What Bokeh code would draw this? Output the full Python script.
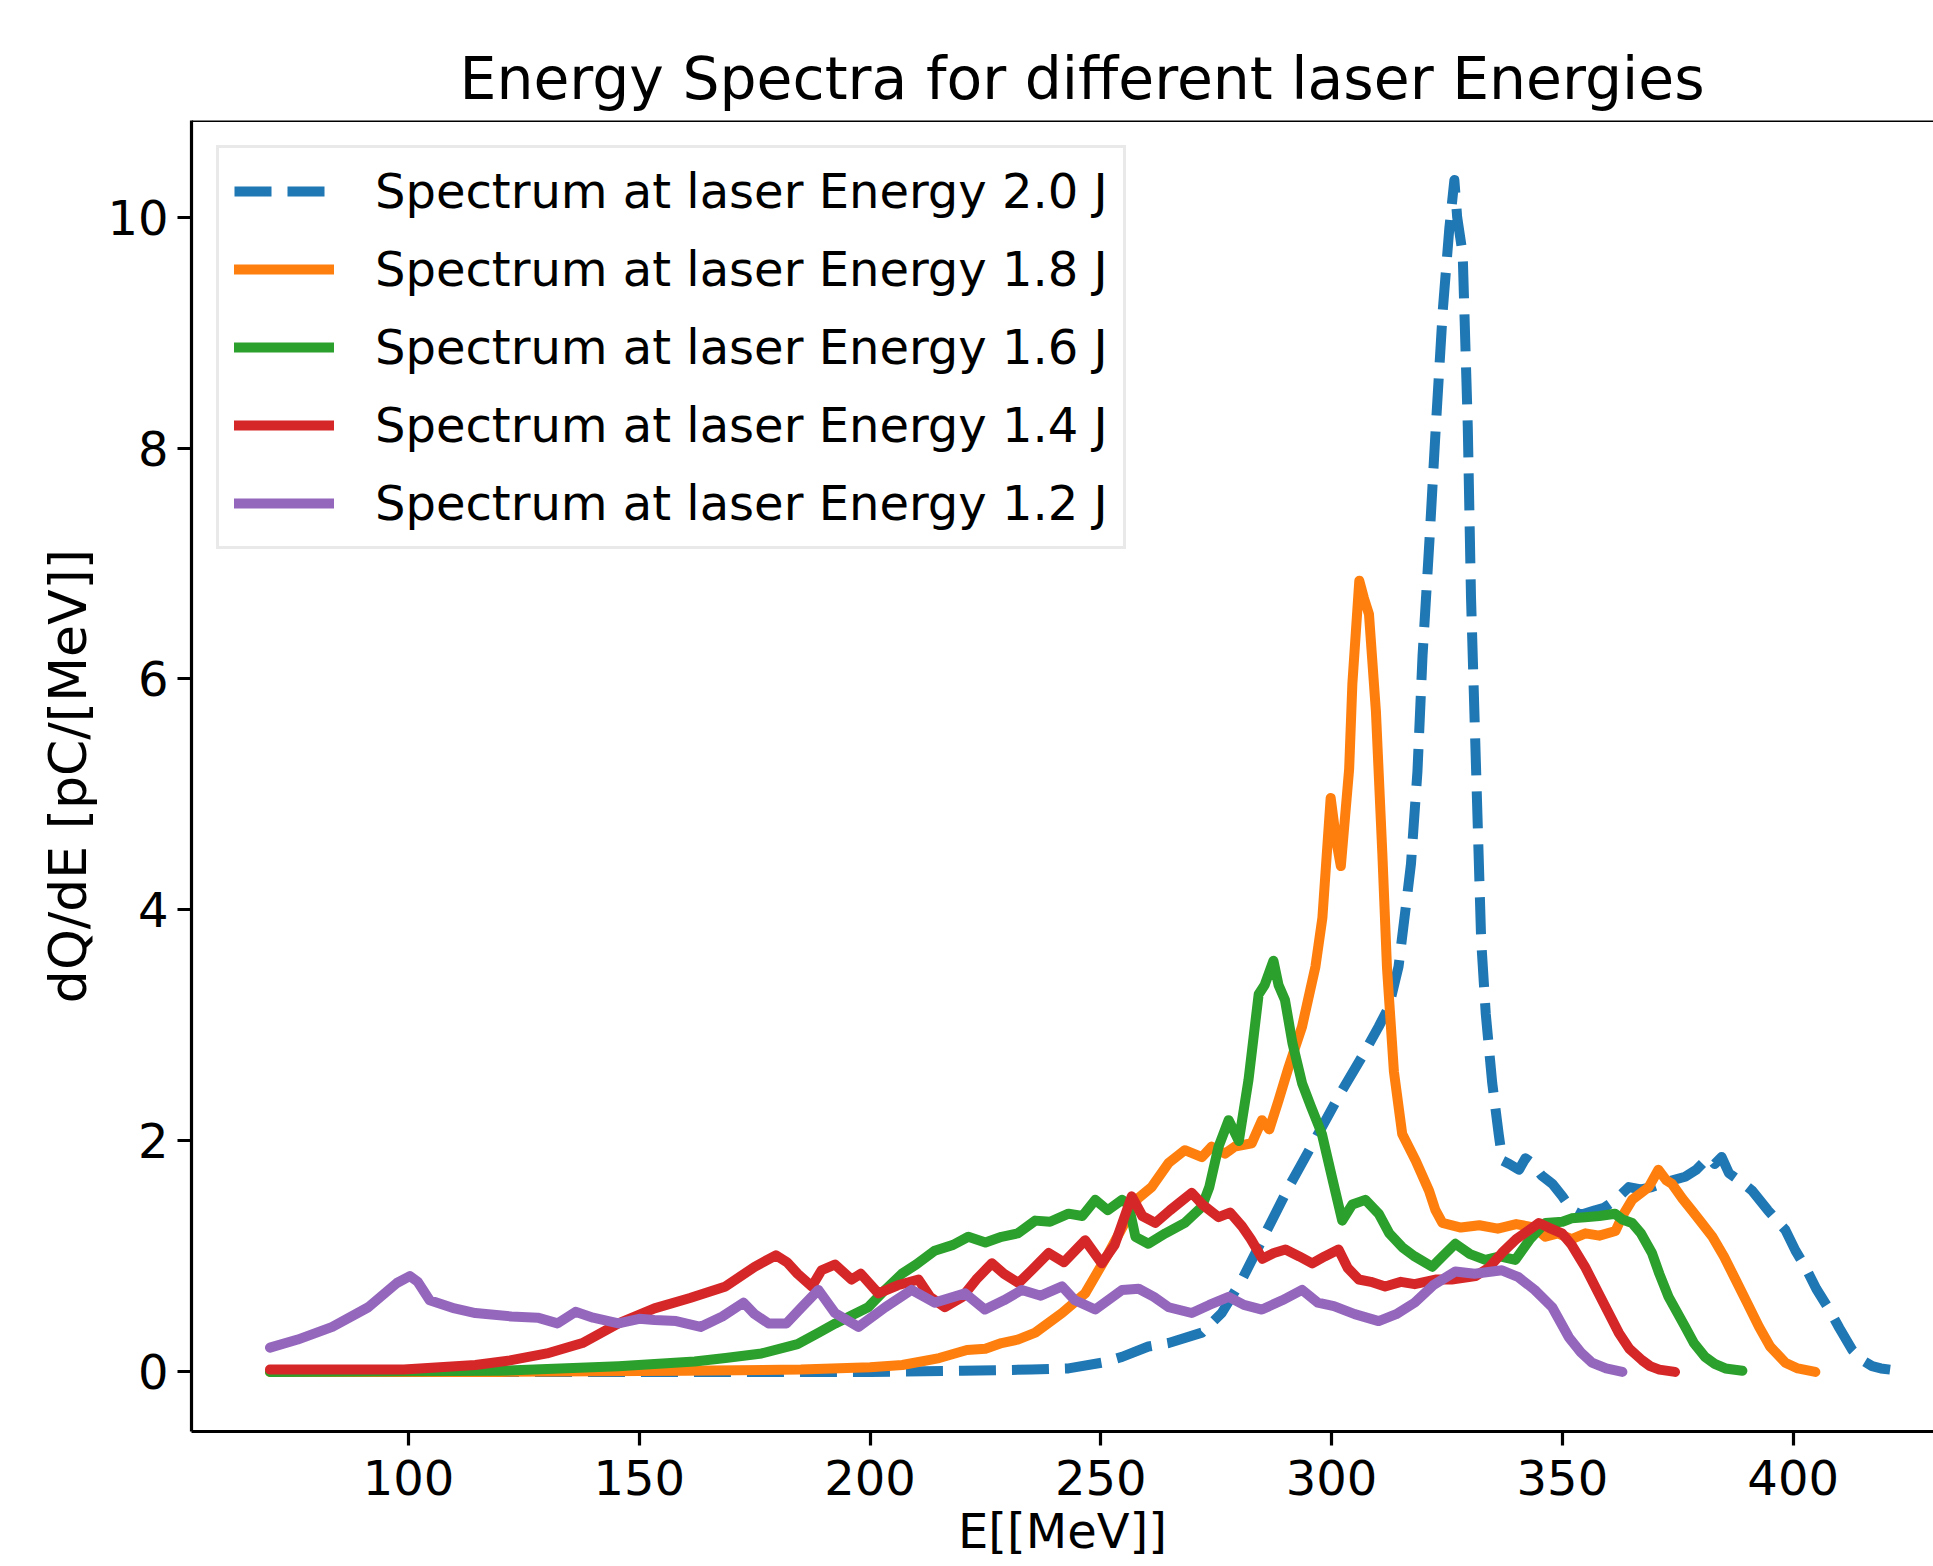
from bokeh.plotting import figure
from bokeh.models import Range1d, FixedTicker, Legend, LegendItem, Span
from bokeh.embed import file_html
from bokeh.resources import INLINE

FONT = "DejaVu Sans"

# ---- data ----
labels = ["Spectrum at laser Energy 2.0 J", "Spectrum at laser Energy 1.8 J",
          "Spectrum at laser Energy 1.6 J", "Spectrum at laser Energy 1.4 J",
          "Spectrum at laser Energy 1.2 J"]
colors = ["#1f77b4", "#ff7f0e", "#2ca02c", "#d62728", "#9467bd"]

e20 = [70, 150, 200, 220, 235, 243, 250.2, 254.6, 260.3, 264.7, 271.9, 276.2, 280.6, 284.9, 287.8,
       290.7, 293.2, 297.9, 302.3, 306.6, 310.2, 312.4, 314.5, 316, 317.2, 318.6, 319.7, 321.2, 322.6,
       324.1, 325.5, 326.6, 327.2, 328.4, 329.5, 330.2, 331.3, 332.4, 333.4, 334.8, 336.2, 337, 338.5,
       340.6, 342, 343.4, 345.5, 347.8, 350, 352.1, 354, 357.1, 359, 361.5, 364.4, 367, 369.4, 373,
       376.6, 379, 381.7, 383, 384.5, 386.1, 388.6, 391.1, 394.5, 398.3, 400.5, 402.6, 405, 407.8,
       410, 412.8, 415, 417.1, 419, 421]
q20 = [0.0, 0.0, 0.0, 0.01, 0.02, 0.03, 0.08, 0.13, 0.22, 0.25, 0.34, 0.51, 0.8, 1.14, 1.37,
       1.6, 1.78, 2.12, 2.44, 2.73, 2.99, 3.16, 3.51, 4.0, 4.4, 5.2, 6.2, 7.2, 8.2,
       9.2, 9.9, 10.32, 10.0, 9.68, 8.19, 6.71, 5.22, 3.74, 3.1, 2.5, 2.06, 1.83, 1.8,
       1.75, 1.85, 1.81, 1.7, 1.63, 1.52, 1.4, 1.36, 1.4, 1.42, 1.49, 1.6, 1.58, 1.6, 1.65,
       1.69, 1.75, 1.86, 1.8, 1.86, 1.72, 1.65, 1.57, 1.4, 1.23, 1.05, 0.91, 0.72, 0.54,
       0.38, 0.19, 0.1, 0.05, 0.03, 0.02]

e18 = [70, 120, 160, 185, 200, 207, 215, 221, 225, 228.5, 232, 235.8, 241.6, 246.6, 251.7, 255.2,
       258, 261, 264.7, 268.2, 271.9, 274, 276.9, 279, 282.7, 284.9, 286.5, 288.5, 290.7, 293.6,
       296.5, 298, 299.8, 301, 302, 303.8, 304.5, 306, 307, 308.1, 309.6, 311, 312, 313.5, 315.3,
       318.2, 321.1, 322.5, 324, 328, 332, 336, 340, 344, 346.3, 349, 352, 355, 358, 361.5, 363,
       365.1, 368.7, 370.8, 372.5, 373.7, 376, 378, 380, 382.5, 385, 387.5, 390, 392.6, 395,
       398.3, 401, 404.8]
q18 = [0.0, 0.0, 0.01, 0.02, 0.04, 0.06, 0.12, 0.19, 0.2, 0.25, 0.28, 0.34, 0.51, 0.68, 1.03, 1.29,
       1.5, 1.6, 1.81, 1.92, 1.86, 1.95, 1.89, 1.95, 1.98, 2.18, 2.1, 2.35, 2.64, 2.99,
       3.51, 3.93, 4.97, 4.6, 4.38, 5.22, 5.96, 6.85, 6.7, 6.56, 5.72, 4.48, 3.5, 2.6, 2.06,
       1.83, 1.57, 1.4, 1.29, 1.25, 1.27, 1.24, 1.28, 1.25, 1.17, 1.2, 1.15, 1.2, 1.18, 1.22, 1.35,
       1.49, 1.6, 1.75, 1.66, 1.63, 1.5, 1.4, 1.3, 1.17, 1.0, 0.8, 0.6, 0.39, 0.22,
       0.08, 0.03, 0.0]

e16 = [70, 120, 145.5, 162, 168.7, 176.5, 184.3, 188.9, 192.5, 199.6, 203, 206.9, 210, 214, 218,
       221.3, 225, 228.5, 232, 235.8, 239, 243, 246, 248.8, 251.5, 254.6, 256, 257.5, 260.3, 264,
       268.2, 271.9, 273.5, 275.5, 277.7, 279.9, 282, 284.2, 285.5, 287.4, 288.5, 289.9, 291.5,
       293.6, 295.5, 297.9, 300, 302.3, 304.5, 307.3, 310.2, 312.5, 315.3, 318, 321.8, 324, 326.8,
       330, 333.3, 336.5, 339.8, 343, 346.3, 350, 352, 354.9, 358, 361.4, 363, 365.1, 367, 369.4,
       371, 373, 376.6, 378.5, 380.9, 383, 385.3, 389]
q16 = [0.0, 0.01, 0.05, 0.09, 0.12, 0.16, 0.24, 0.34, 0.42, 0.56, 0.7, 0.85, 0.93, 1.05, 1.1,
       1.17, 1.12, 1.17, 1.2, 1.31, 1.3, 1.37, 1.35, 1.49, 1.4, 1.49, 1.45, 1.17, 1.11, 1.2,
       1.29, 1.43, 1.6, 1.95, 2.18, 2.0, 2.53, 3.27, 3.35, 3.56, 3.35, 3.22, 2.85,
       2.5, 2.3, 2.06, 1.7, 1.31, 1.45, 1.49, 1.37, 1.2, 1.08, 1.0, 0.91, 1.0, 1.11,
       1.02, 0.97, 1.0, 0.97, 1.15, 1.29, 1.3, 1.33, 1.34, 1.35, 1.37, 1.32, 1.29, 1.2, 1.03,
       0.85, 0.65, 0.39, 0.25, 0.13, 0.07, 0.03, 0.01]

e14 = [70, 99, 114.5, 122, 130, 137.7, 145.5, 153.3, 161, 168.7, 175, 179.6, 182, 184.3, 187.4,
       189.5, 192.4, 196, 198, 201.8, 206, 210.5, 213, 216.2, 220, 223, 226.4, 229, 232.2, 235,
       238.7, 242, 246.6, 250.2, 253, 256.7, 259, 261.8, 265, 269.7, 272, 275.5, 278, 280.6, 282.5,
       285, 287.5, 290, 293, 295.8, 298.5, 301.5, 303.5, 305.9, 308.5, 311.6, 315, 318, 322.5, 326,
       331.2, 334, 336.9, 340, 342.5, 344.9, 347, 349.9, 352, 354.9, 358.6, 362.2, 364.5, 367.3,
       369, 371, 374.4]
q14 = [0.02, 0.02, 0.06, 0.1, 0.16, 0.25, 0.42, 0.55, 0.64, 0.74, 0.91, 1.01, 0.95, 0.85, 0.74,
       0.88, 0.93, 0.8, 0.85, 0.68, 0.75, 0.8, 0.65, 0.56, 0.65, 0.8, 0.94, 0.85, 0.77, 0.88,
       1.03, 0.95, 1.14, 0.94, 1.1, 1.52, 1.35, 1.29, 1.4, 1.55, 1.45, 1.34, 1.38, 1.26, 1.15,
       0.98, 1.03, 1.06, 1.0, 0.94, 1.0, 1.06, 0.9, 0.8, 0.78, 0.74, 0.78, 0.76, 0.8, 0.8,
       0.83, 0.9, 1.03, 1.15, 1.22, 1.29, 1.25, 1.2, 1.1, 0.91, 0.62, 0.34, 0.2, 0.1,
       0.05, 0.02, 0.0]

e12 = [70, 76, 83.5, 91.3, 97.5, 100.3, 102, 104.6, 110, 114.5, 122.3, 128, 132.3, 136.2, 140,
       145.5, 150, 153.3, 158, 163.3, 168, 172.6, 175, 178, 181.9, 185.2, 188.8, 192.4, 197.5,
       203.3, 209, 214, 220.6, 224.9, 229, 232.9, 237, 241.6, 244.4, 248.8, 254.6, 258.2, 261.5,
       264.7, 269.7, 273.5, 277.7, 281, 284.9, 289.3, 293.6, 297, 300.5, 305, 310.2, 314, 318, 322,
       326.8, 331, 336.9, 340.5, 344, 347.8, 351.4, 354, 356.4, 359.5, 363]
q12 = [0.21, 0.28, 0.39, 0.56, 0.77, 0.83, 0.78, 0.62, 0.55, 0.51, 0.48, 0.47, 0.42, 0.52, 0.47,
       0.42, 0.46, 0.45, 0.44, 0.39, 0.48, 0.6, 0.5, 0.42, 0.42, 0.56, 0.71, 0.51, 0.39,
       0.56, 0.71, 0.6, 0.68, 0.54, 0.62, 0.71, 0.66, 0.74, 0.62, 0.54, 0.71, 0.72, 0.65,
       0.56, 0.51, 0.58, 0.65, 0.58, 0.54, 0.62, 0.71, 0.6, 0.57, 0.5, 0.44, 0.5, 0.6, 0.75,
       0.87, 0.85, 0.88, 0.82, 0.71, 0.56, 0.3, 0.17, 0.08, 0.03, 0.0]

x_ticks = [100, 150, 200, 250, 300, 350, 400]
y_ticks = [0, 2, 4, 6, 8, 10]

# ---- figure ----
p = figure(frame_width=1742, frame_height=1311,
           x_range=Range1d(53.0, 430.4), y_range=Range1d(-0.516, 10.836),
           output_backend="svg", toolbar_location=None,
           min_border_left=191, min_border_right=0, min_border_top=120, min_border_bottom=135)

p.title.text = "Energy Spectra for different laser Energies"
p.title.text_font = FONT
p.title.text_font_size = "58.4px"
p.title.text_font_style = "normal"
p.title.text_color = "black"
p.title.align = "left"
p.title.offset = 268
p.title.standoff = 15

p.xgrid.visible = False
p.ygrid.visible = False
p.outline_line_color = None
p.background_fill_color = "white"
p.border_fill_color = "white"

for ax in (p.xaxis[0], p.yaxis[0]):
    ax.axis_line_width = 3.2
    ax.axis_line_color = "black"
    ax.major_tick_line_width = 3.2
    ax.major_tick_line_color = "black"
    ax.major_tick_in = 0
    ax.major_tick_out = 14
    ax.minor_tick_in = 0
    ax.minor_tick_out = 0
    ax.major_label_text_font = FONT
    ax.major_label_text_font_size = "48px"
    ax.major_label_text_color = "black"
    ax.major_label_standoff = 14
    ax.axis_label_text_font = FONT
    ax.axis_label_text_font_style = "normal"
    ax.axis_label_text_color = "black"

p.xaxis.ticker = FixedTicker(ticks=x_ticks)
p.yaxis.ticker = FixedTicker(ticks=y_ticks)
p.yaxis.major_label_standoff = 9
p.yaxis.axis_label = "dQ/dE [pC/[MeV]]"
p.yaxis.axis_label_text_font_size = "52px"
p.yaxis.axis_label_standoff = 6
p.xaxis.axis_label = "E[[MeV]]"
p.xaxis.axis_label_text_font_size = "48px"
p.xaxis.axis_label_standoff = 5

p.add_layout(Span(location=10.836, dimension="width", line_color="black", line_width=3.2))

series = [(e20, q20), (e18, q18), (e16, q16), (e14, q14), (e12, q12)]
renderers = []
for i, (ex, qy) in enumerate(series):
    kw = dict(line_color=colors[i], line_width=10, line_join="round")
    if i == 0:
        kw["line_dash"] = "37 16"
    else:
        kw["line_cap"] = "round"
    renderers.append(p.line(ex, qy, **kw))

legend = Legend(items=[LegendItem(label=labels[i], renderers=[renderers[i]]) for i in range(5)],
                location="top_left", margin=25, padding=15, spacing=22,
                glyph_width=100, glyph_height=56, label_standoff=41,
                label_text_font=FONT, label_text_font_size="48px", label_text_color="black",
                border_line_color="#d3d3d3", border_line_width=3,
                background_fill_color="white", background_fill_alpha=0.8)
p.add_layout(legend)

open("out.html", "w").write(file_html(p, INLINE))
